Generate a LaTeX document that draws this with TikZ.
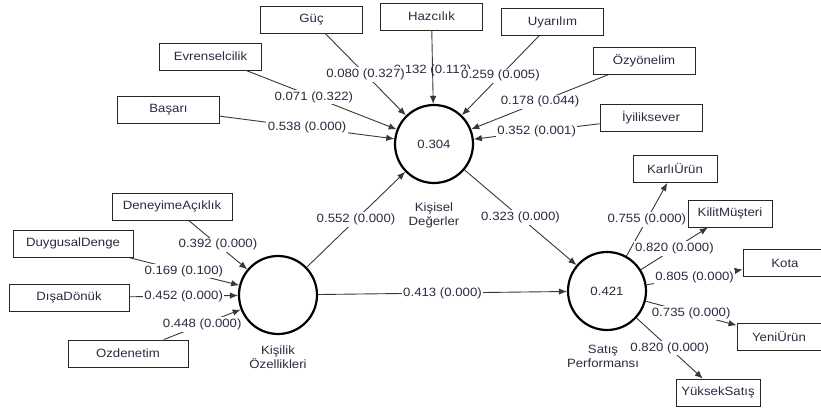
\documentclass[tikz,border=0pt]{standalone}
\usepackage{fontspec}
\setmainfont{Liberation Sans}[FakeStretch=1.1]
\usepackage{xcolor}
\definecolor{ColLine}{RGB}{55,55,55}
\definecolor{ColText}{RGB}{40,44,62}
\usetikzlibrary{arrows.meta}
\newcommand{\plsfont}{\fontsize{12}{14}\selectfont}
\tikzstyle{LV}=[circle,draw=black,line width=2.2pt,minimum size=78pt,
inner sep=0pt,font=\plsfont,text=ColText]
\tikzstyle{MV}=[rectangle,draw=black!85,line width=0.9pt,minimum height=27pt,
inner sep=2pt,font=\plsfont,text=ColText]
\tikzstyle{MVTop}=[MV,minimum width=102pt]
\tikzstyle{MVLeft}=[MV,minimum width=120pt]
\tikzstyle{MVRight}=[MV,minimum width=84pt]
\tikzstyle{LVName}=[align=center,font=\plsfont,text=ColText]
\tikzstyle{Edge}=[draw=ColLine,line width=0.9pt]
\tikzstyle{Arrow}=[Edge,-{Latex[length=8pt,width=6.5pt]}]
\tikzstyle{Coef}=[fill=white,inner sep=1.5pt,font=\plsfont,text=ColText]

\begin{document}
\begin{tikzpicture}[x=1pt,y=-1pt]
        \useasboundingbox (0,0) rectangle (821,409);
        % latent variables
        \node[LV](kd)at(434,144){0.304};
        \node[LV](ko)at(278,295){};
        \node[LV](sp)at(607,291){0.421};
        \node[LVName](kdname)at(434,215){Kişisel\\Değerler};
        \node[LVName](koname)at(278,357){Kişilik\\Özellikleri};
        \node[LVName](spname)at(603,356){Satış\\Performansı};
        % Kişisel Değerler indicators
        \node[MVTop](basari)at(168.5,109.5){Başarı};
        \node[MVTop](evrensel)at(210.5,56.5){Evrenselcilik};
        \node[MVTop](guc)at(311.5,19.5){Güç};
        \node[MVTop](hazcilik)at(431.5,16.5){Hazcılık};
        \node[MVTop](uyarilim)at(552.5,22){Uyarılım};
        \node[MVTop](ozyonelim)at(644,60.5){Özyönelim};
        \node[MVTop](iyilik)at(651,117.5){İyiliksever};
        % Kişilik Özellikleri indicators
        \node[MVLeft](deneyim)at(172,206.5){DeneyimeAçıklık};
        \node[MVLeft](duygusal)at(73,243.5){DuygusalDenge};
        \node[MVLeft](disa)at(69,297.5){DışaDönük};
        \node[MVLeft](ozdenetim)at(128,353.5){Ozdenetim};
        % Satış Performansı indicators
        \node[MVRight](karli)at(675,169){KarlıÜrün};
        \node[MVRight](kilit)at(730,213.5){KilitMüşteri};
        \node[MVRight](kota)at(785,263){Kota};
        \node[MVRight](yeni)at(779,336.5){YeniÜrün};
        \node[MVRight](yuksek)at(718,392.5){YüksekSatış};
        % formative edges
        \draw[Arrow](hazcilik)--node[Coef,fill=none,pos=.55]{0.132 (0.112)}(kd);
        \draw[Arrow](basari)--node[Coef]{0.538 (0.000)}(kd);
        \draw[Arrow](evrensel)--node[Coef,pos=.45]{0.071 (0.322)}(kd);
        \draw[Arrow](guc)--node[Coef]{0.080 (0.327)}(kd);
        \draw[Arrow](uyarilim)--node[Coef]{0.259 (0.005)}(kd);
        \draw[Arrow](ozyonelim)--node[Coef]{0.178 (0.044)}(kd);
        \draw[Arrow](iyilik)--node[Coef]{0.352 (0.001)}(kd);
        \draw[Arrow](deneyim)--node[Coef]{0.392 (0.000)}(ko);
        \draw[Arrow](duygusal)--node[Coef]{0.169 (0.100)}(ko);
        \draw[Arrow](disa)--node[Coef]{0.452 (0.000)}(ko);
        \draw[Arrow](ozdenetim)--node[Coef]{0.448 (0.000)}(ko);
        % structural edges
        \draw[Arrow](ko)--node[Coef]{0.552 (0.000)}(kd);
        \draw[Arrow](kd)--node[Coef]{0.323 (0.000)}(sp);
        \draw[Arrow](ko)--node[Coef]{0.413 (0.000)}(sp);
        % reflective edges
        \draw[Arrow](sp)--node[Coef]{0.755 (0.000)}(karli);
        \draw[Arrow](sp)--node[Coef]{0.820 (0.000)}(kilit);
        \draw[Arrow](sp)--node[Coef]{0.805 (0.000)}(kota);
        \draw[Arrow](sp)--node[Coef]{0.735 (0.000)}(yeni);
        \draw[Arrow](sp)--node[Coef]{0.820 (0.000)}(yuksek);
    \end{tikzpicture}
\end{document}
